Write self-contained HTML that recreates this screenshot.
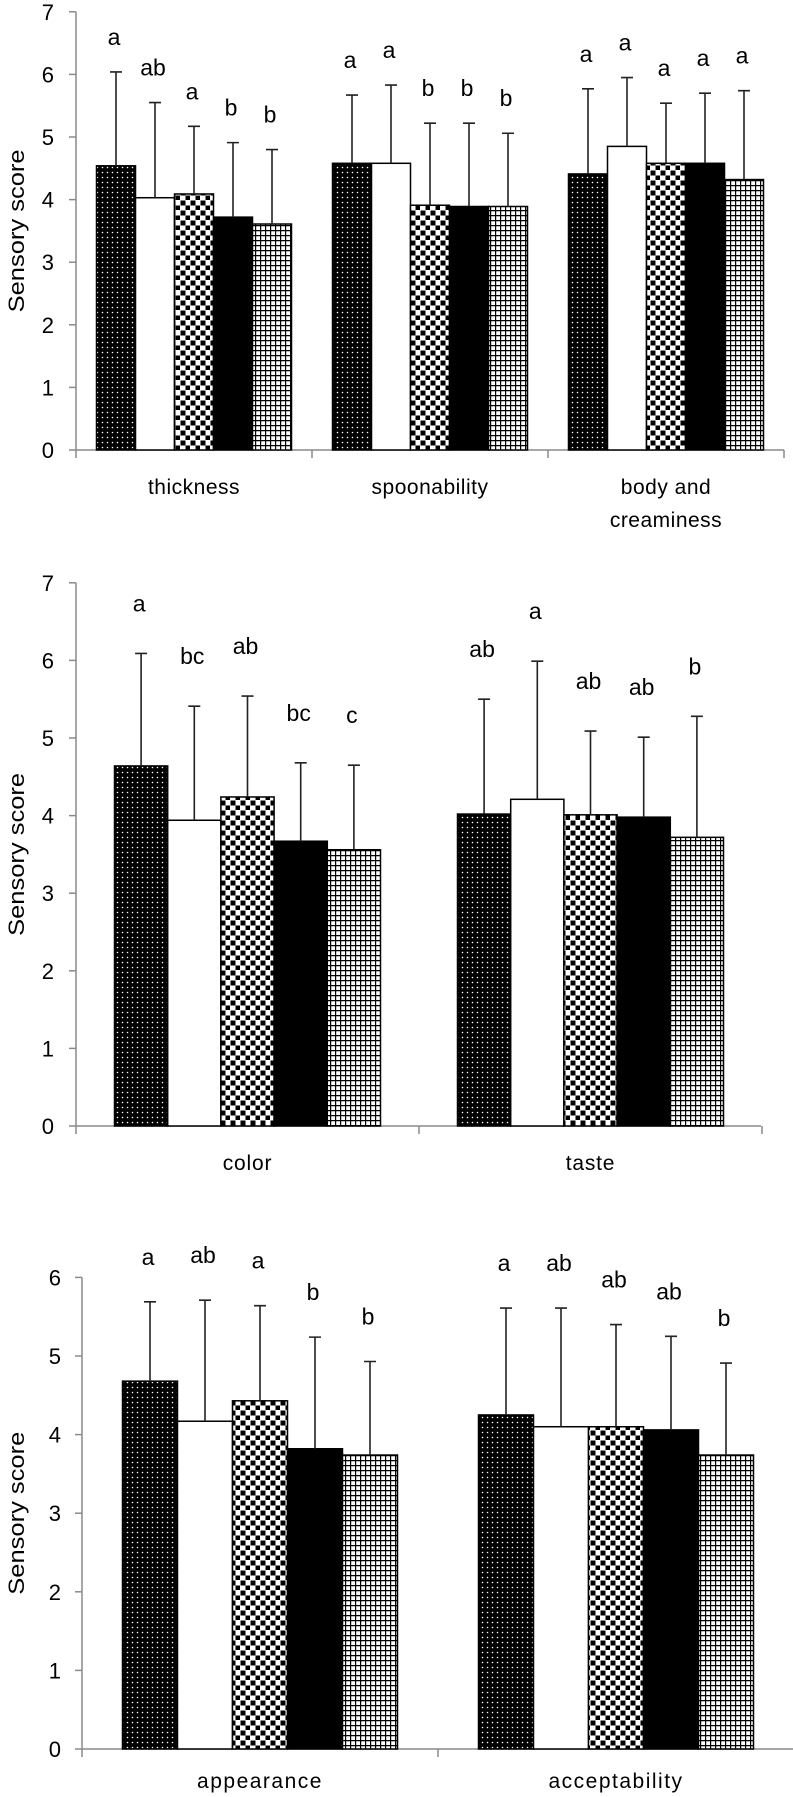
<!DOCTYPE html>
<html><head><meta charset="utf-8">
<style>
html,body{margin:0;padding:0;background:#fff;}
svg{display:block;font-family:"Liberation Sans",sans-serif;}
</style></head>
<body>
<svg id="fig" width="793" height="1797" viewBox="0 0 793 1797" xmlns="http://www.w3.org/2000/svg">
<defs>
<pattern id="pDots" width="5" height="5" patternUnits="userSpaceOnUse"><rect width="5" height="5" fill="#000"/><circle cx="2.5" cy="2.5" r="0.8" fill="#fff"/></pattern>
<pattern id="pCheck" width="10" height="10" patternUnits="userSpaceOnUse"><rect width="10" height="10" fill="#fff"/><rect x="0.5" y="0.5" width="5" height="5" fill="#000"/><rect x="5.5" y="5.5" width="5" height="5" fill="#000"/></pattern>
<pattern id="pGrid" width="5" height="5" patternUnits="userSpaceOnUse"><rect width="5" height="5" fill="#fff"/><path d="M0 0.6H5M0.6 0V5" stroke="#000" stroke-width="1.2"/></pattern>
</defs>
</svg>
<script>
// Panel 1 data
const p1Categories = [["thickness"], ["spoonability"], ["body and", "creaminess"]];
const p1Means = [[4.54, 4.03, 4.09, 3.72, 3.61], [4.58, 4.58, 3.91, 3.89, 3.89], [4.41, 4.85, 4.58, 4.58, 4.32]];
const p1Upper = [[6.04, 5.55, 5.17, 4.91, 4.80], [5.67, 5.83, 5.22, 5.22, 5.06], [5.77, 5.95, 5.54, 5.70, 5.74]];
const p1Letters = [["a", "ab", "a", "b", "b"], ["a", "a", "b", "b", "b"], ["a", "a", "a", "a", "a"]];
const p1Ticks = [0, 1, 2, 3, 4, 5, 6, 7];
// Panel 2 data
const p2Categories = [["color"], ["taste"]];
const p2Means = [[4.64, 3.94, 4.24, 3.67, 3.56], [4.02, 4.21, 4.01, 3.98, 3.72]];
const p2Upper = [[6.09, 5.41, 5.54, 4.68, 4.65], [5.50, 5.99, 5.09, 5.01, 5.28]];
const p2Letters = [["a", "bc", "ab", "bc", "c"], ["ab", "a", "ab", "ab", "b"]];
const p2Ticks = [0, 1, 2, 3, 4, 5, 6, 7];
// Panel 3 data
const p3Categories = [["appearance"], ["acceptability"]];
const p3Means = [[4.68, 4.17, 4.43, 3.82, 3.74], [4.25, 4.10, 4.10, 4.06, 3.74]];
const p3Upper = [[5.69, 5.71, 5.64, 5.24, 4.93], [5.61, 5.61, 5.40, 5.25, 4.91]];
const p3Letters = [["a", "ab", "a", "b", "b"], ["a", "ab", "ab", "ab", "b"]];
const p3Ticks = [0, 1, 2, 3, 4, 5, 6];

const fills = ["url(#pDots)", "#fff", "url(#pCheck)", "#000", "url(#pGrid)"];
const svg = document.getElementById('fig');
const NS = "http://www.w3.org/2000/svg";
function mk(tag, attrs, parent) {
  const e = document.createElementNS(NS, tag);
  for (const k in attrs) e.setAttribute(k, attrs[k]);
  parent.appendChild(e);
  return e;
}

function drawPanel(id, cfg, cats, means, upper, letters, ticks) {
  const g = mk('g', {}, svg);
  
  
  const yS = v => cfg.zero - v * cfg.unit;
  const ymax = ticks[ticks.length - 1];
  const ya = mk('line', {x1: cfg.ax, x2: cfg.ax, y1: yS(ymax), y2: cfg.zero + 8, stroke: '#8a8a8a', 'stroke-width': 1.5}, g);
  
  
  ticks.forEach(t => {
    const tl = mk('line', {x1: cfg.ax - 7, x2: cfg.ax, y1: yS(t), y2: yS(t), stroke: '#8a8a8a', 'stroke-width': 1.5}, g);
    
    
    const tx = mk('text', {x: cfg.tickX, y: yS(t) + 8, 'text-anchor': 'end', 'font-size': 22, fill: '#000'}, g);
    tx.textContent = t;
    
    
  });
  const cy = (yS(ymax) + cfg.zero) / 2;
  const yt = mk('text', {x: 0, y: 0, transform: `translate(${cfg.titleX},${cy}) rotate(-90)`, 'text-anchor': 'middle', 'font-size': 22, textLength: 163, lengthAdjust: 'spacingAndGlyphs', fill: '#000'}, g);
  yt.textContent = 'Sensory score';
  
  
  const xa = mk('line', {x1: cfg.ax, x2: cfg.axEnd, y1: cfg.zero, y2: cfg.zero, stroke: '#8a8a8a', 'stroke-width': 1.5}, g);
  
  
  for (let i = 1; i <= cats.length; i++) {
    const x = cfg.ax + i * cfg.catW;
    if (x > 792) continue;
    const ct = mk('line', {x1: x, x2: x, y1: cfg.zero, y2: cfg.zero + 8, stroke: '#8a8a8a', 'stroke-width': 1.5}, g);
    
    
  }
  cats.forEach((lines, ci) => {
    const cx = cfg.ax + (ci + 0.5) * cfg.catW;
    lines.forEach((ln, li) => {
      const lt = mk('text', {x: cx, y: cfg.labelY + 7 + li * 33, 'text-anchor': 'middle', 'font-size': cfg.labelFs, 'letter-spacing': cfg.ls, fill: '#000'}, g);
      lt.textContent = ln;
      
      
    });
    const start = cx - 2.5 * cfg.bw;
    means[ci].forEach((m, bi) => {
      const x = start + bi * cfg.bw;
      const bc = x + cfg.bw / 2;
      const r = mk('rect', {x: x, y: yS(m), width: cfg.bw, height: cfg.zero - yS(m), fill: fills[bi], stroke: '#000', 'stroke-width': 1.5}, g);
      
      
      const e = mk('path', {d: `M${bc} ${yS(m)}V${yS(upper[ci][bi])}M${bc - 6} ${yS(upper[ci][bi])}H${bc + 6}`, stroke: '#222', 'stroke-width': 1.6, fill: 'none'}, g);
      
      
      const lt = mk('text', {x: bc - 2, y: yS(upper[ci][bi]) - cfg.letOff + 8, 'text-anchor': 'middle', 'font-size': 23, fill: '#000'}, g);
      lt.textContent = letters[ci][bi];
      
      
    });
  });
}

drawPanel('panel-texture', {ax: 76, zero: 450, unit: 62.6, catW: 236, axEnd: 784, bw: 39, tickX: 54, titleX: 24, labelY: 487, labelFs: 21, ls: 0.5, letOff: 35}, p1Categories, p1Means, p1Upper, p1Letters, p1Ticks);
drawPanel('panel-color-taste', {ax: 76, zero: 1126, unit: 77.6, catW: 343, axEnd: 761, bw: 53.2, tickX: 54, titleX: 24, labelY: 1163, labelFs: 21, ls: 0.8, letOff: 50}, p2Categories, p2Means, p2Upper, p2Letters, p2Ticks);
drawPanel('panel-appearance-acceptability', {ax: 82, zero: 1749, unit: 78.6, catW: 356, axEnd: 793, bw: 55, tickX: 61, titleX: 24, labelY: 1781, labelFs: 21, ls: 1.5, letOff: 45}, p3Categories, p3Means, p3Upper, p3Letters, p3Ticks);
</script>
</body></html>
